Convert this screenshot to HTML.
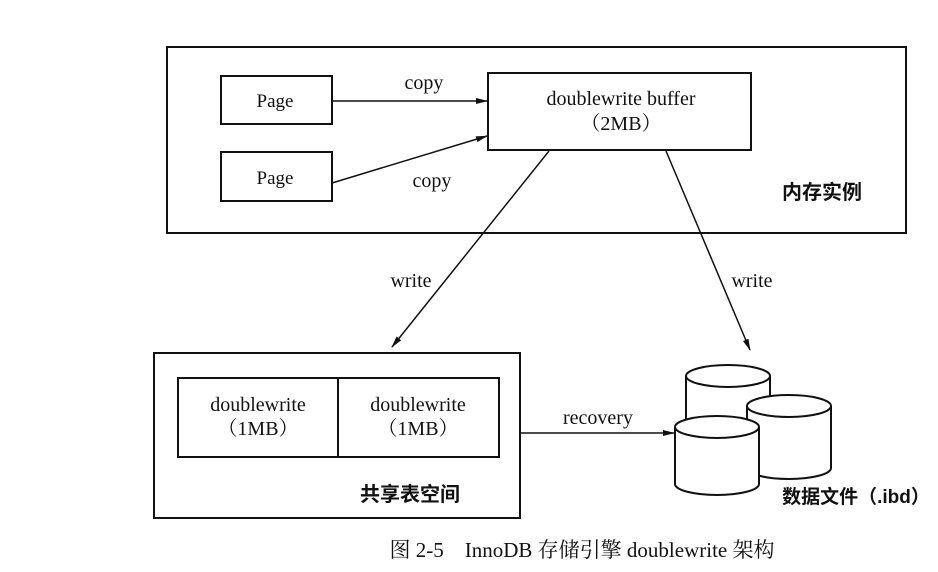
<!DOCTYPE html>
<html><head><meta charset="utf-8"><style>
html,body{margin:0;padding:0;background:#fff;}
svg{display:block}
text{font-family:"Liberation Serif","Noto Serif CJK SC",serif;fill:#111;}
.cj{font-family:"Liberation Sans","Noto Sans CJK SC",sans-serif;font-weight:bold;}
</style></head><body>
<svg width="938" height="572" viewBox="0 0 938 572" xmlns="http://www.w3.org/2000/svg">
<defs><marker id="a" markerWidth="12" markerHeight="8" refX="11" refY="4" orient="auto" markerUnits="userSpaceOnUse"><path d="M0,1 L12,4 L0,7 Z" fill="#111"/></marker></defs>
<g stroke="#111" stroke-width="2" fill="none">
<rect x="167" y="47" width="739" height="186"/>
<rect x="221" y="76" width="111" height="48"/>
<rect x="221" y="152" width="111" height="49"/>
<rect x="488" y="73" width="263" height="77"/>
<rect x="154" y="353" width="366" height="165"/>
<rect x="178" y="378" width="321" height="79"/>
<line x1="338" y1="378" x2="338" y2="457"/>
</g>
<g stroke="#111" stroke-width="1.5" fill="none">
<line x1="332" y1="101" x2="487" y2="101" marker-end="url(#a)"/>
<line x1="332" y1="183" x2="487" y2="136" marker-end="url(#a)"/>
<line x1="549" y1="151" x2="392" y2="347" marker-end="url(#a)"/>
<line x1="666" y1="151" x2="750" y2="350" marker-end="url(#a)"/>
<line x1="520" y1="433" x2="674" y2="433" marker-end="url(#a)"/>
</g>
<g stroke="#111" stroke-width="2" fill="#fff">
<path d="M686,376 L686,450 A42,11 0 0 0 770,450 L770,376"/>
<ellipse cx="728" cy="376" rx="42" ry="11"/>
<path d="M747,406 L747,468 A42,11 0 0 0 831,468 L831,406"/>
<ellipse cx="789" cy="406" rx="42" ry="11"/>
<path d="M675,427 L675,484 A42,11 0 0 0 759,484 L759,427"/>
<ellipse cx="717" cy="427" rx="42" ry="11"/>
</g>
<g font-size="20" text-anchor="middle">
<text x="275" y="107" font-size="19">Page</text>
<text x="275" y="184" font-size="19">Page</text>
<text x="424" y="89">copy</text>
<text x="432" y="187">copy</text>
<text x="621" y="105">doublewrite buffer</text>
<text x="621" y="130">（2MB）</text>
<text x="258" y="411">doublewrite</text>
<text x="258" y="435">（1MB）</text>
<text x="418" y="411">doublewrite</text>
<text x="418" y="435">（1MB）</text>
<text x="411" y="287">write</text>
<text x="752" y="287">write</text>
<text x="598" y="424">recovery</text>
</g>
<text class="cj" x="822" y="199" font-size="20" text-anchor="middle">内存实例</text>
<text class="cj" x="410" y="501" font-size="20" text-anchor="middle">共享表空间</text>
<text class="cj" x="856" y="503" font-size="19" text-anchor="middle">数据文件（.ibd）</text>
<text x="582" y="557" font-size="21" text-anchor="middle">图 2-5　InnoDB 存储引擎 doublewrite 架构</text>
</svg>
</body></html>
